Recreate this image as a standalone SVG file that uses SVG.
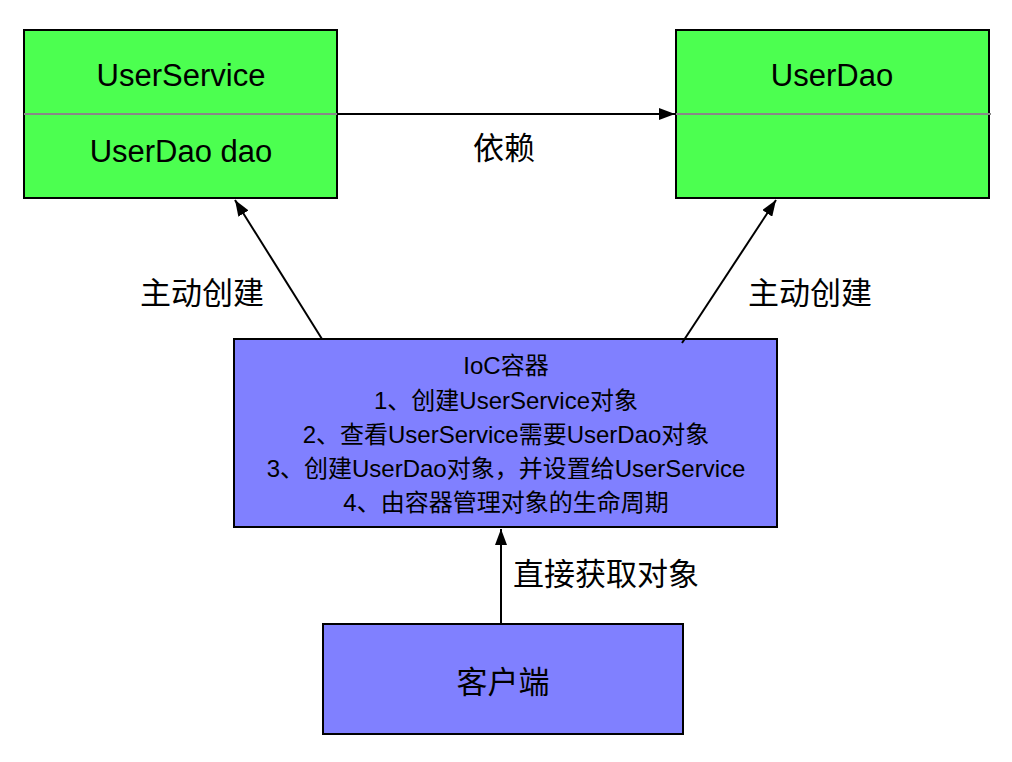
<svg xmlns="http://www.w3.org/2000/svg" width="1012" height="762" viewBox="0 0 1012 762">
<style>
text{font-family:"Liberation Sans","Noto Sans CJK SC",sans-serif;fill:#000;text-anchor:middle;dominant-baseline:central}
.green{fill:#4cff50;stroke:#000;stroke-width:2}
.blue{fill:#8080ff;stroke:#000;stroke-width:2}
.div{stroke:#888;stroke-width:2}
.conn{stroke:#000;stroke-width:2;fill:none}
.big{font-size:31px}
.mid{font-size:24px}
</style>
<defs>
<marker id="arrL" viewBox="0 0 16 12" refX="16" refY="6" markerWidth="16" markerHeight="12" markerUnits="userSpaceOnUse" orient="auto">
<path d="M0,0 L16,6 L0,12 z" fill="#000"/>
</marker>
</defs>
<rect width="1012" height="762" fill="#fff"/>
<g id="userservice">
<rect class="green" x="24" y="30" width="313" height="168"/>
<line class="div" x1="24" y1="114" x2="337" y2="114"/>
<text class="big" x="181" y="75">UserService</text>
<text class="big" x="181" y="151">UserDao dao</text>
</g>
<g id="userdao">
<rect class="green" x="676" y="30" width="313" height="168"/>
<line class="div" x1="676" y1="114" x2="991" y2="114"/>
<text class="big" x="832" y="75">UserDao</text>
</g>
<g id="ioc">
<rect class="blue" x="234" y="339" width="543" height="188"/>
<text class="mid" x="506" y="365">IoC容器</text>
<text class="mid" x="506" y="400">1、创建UserService对象</text>
<text class="mid" x="506" y="434">2、查看UserService需要UserDao对象</text>
<text class="mid" x="506" y="468">3、创建UserDao对象，并设置给UserService</text>
<text class="mid" x="506" y="502">4、由容器管理对象的生命周期</text>
</g>
<g id="client">
<rect class="blue" x="323" y="624" width="360" height="110"/>
<text class="big" x="503" y="682">客户端</text>
</g>
<g id="connectors">
<line class="conn" x1="337" y1="114" x2="675" y2="114" marker-end="url(#arrL)"/>
<line class="conn" x1="322" y1="339" x2="235" y2="200" marker-end="url(#arrL)"/>
<line class="conn" x1="682" y1="343" x2="776" y2="200" marker-end="url(#arrL)"/>
<line class="conn" x1="501" y1="624" x2="501" y2="529" marker-end="url(#arrL)"/>
</g>
<g id="labels">
<text class="big" x="504" y="148">依赖</text>
<text class="big" x="202" y="293">主动创建</text>
<text class="big" x="810" y="293">主动创建</text>
<text class="big" x="606" y="574">直接获取对象</text>
</g>
</svg>
